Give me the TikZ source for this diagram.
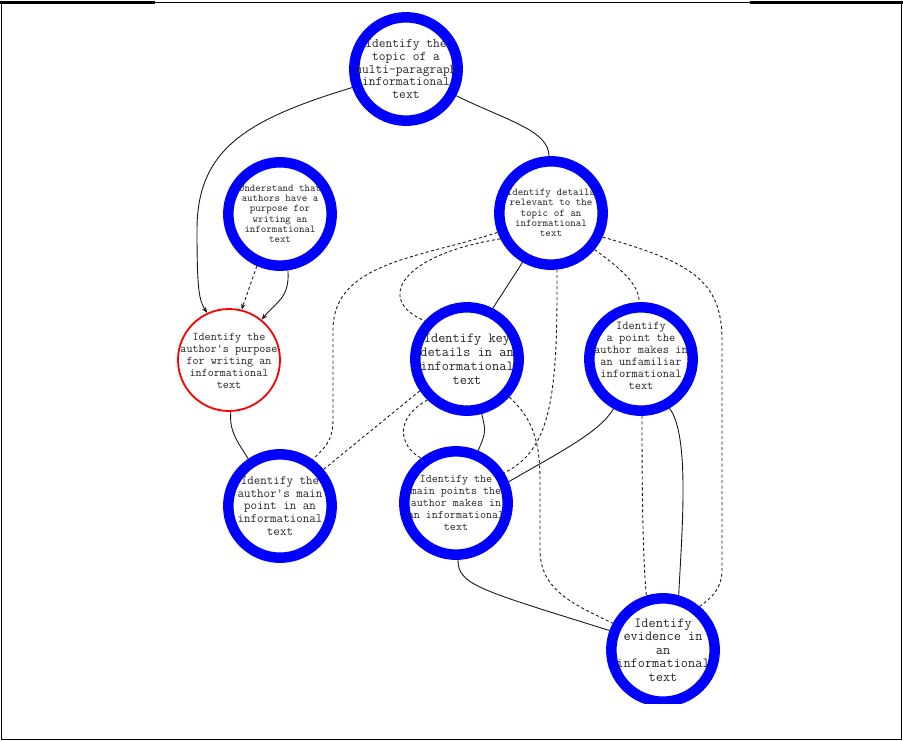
\documentclass[tikz,border=0pt]{standalone}
\usetikzlibrary{arrows.meta}
\tikzset{
 ring/.style={circle, draw=blue, line width=10.5pt, minimum size=103.4pt, inner sep=0pt, fill=white},
 redring/.style={circle, draw=red, line width=1.8pt, minimum size=102pt, inner sep=0pt, fill=white},
 lbl/.style={align=center, inner sep=0pt, text=black!85},
 edge/.style={draw=black!90, line width=0.9pt},
 dedge/.style={edge, dash pattern=on 3pt off 2.5pt},
 arr/.style={-{Stealth[length=6pt,width=4.5pt]}},
}
\newcommand{\fsz}[2]{\ttfamily\fontsize{\fpeval{#1*1.143}}{#2}\selectfont}
\begin{document}
\begin{tikzpicture}[x=1pt,y=-1pt]
\useasboundingbox (0,0) rectangle (903,741);
% frame
\draw[line width=1.5pt] (1.5,3) -- (1.5,739.5) -- (901.5,739.5) -- (901.5,3);
\draw[line width=1pt] (150,3) -- (755,3);
\draw[line width=3pt] (0,3) -- (155,3);
\draw[line width=3pt] (750,3) -- (903,3);
\begin{scope}
\clip (3,5) rectangle (900,703);
% nodes
\node[ring] (topic) at (406,69) {};
\node[lbl, font=\fsz{11.5}{12.7}] (topic-t) at (topic) {Identify the\\topic of a\\multi-paragraph\\informational\\text};
\node[ring] (understand) at (280,214) {};
\node[lbl, font=\fsz{9.1}{10.3}] (understand-t) at (understand) {Understand that\\authors have a\\purpose for\\writing an\\informational\\text};
\node[ring] (details) at (551,213) {};
\node[lbl, font=\fsz{9.2}{10.3}] (details-t) at (details) {Identify details\\relevant to the\\topic of an\\informational\\text};
\node[redring] (purpose) at (229,360) {};
\node[lbl, font=\fsz{10.3}{11.8}] (purpose-t) at ([yshift=-1pt]purpose.center) {Identify the\\author's purpose\\for writing an\\informational\\text};
\node[ring] (key) at (467,359) {};
\node[lbl, font=\fsz{12.2}{14}] (key-t) at (key) {Identify key\\details in an\\informational\\text};
\node[ring] (point) at (641,359) {};
\node[lbl, font=\fsz{10.6}{12}] (point-t) at ([yshift=3pt]point.center) {Identify\\a point the\\author makes in\\an unfamiliar\\informational\\text};
\node[ring] (main) at (280,506) {};
\node[lbl, font=\fsz{11.1}{12.7}] (main-t) at (main) {Identify the\\author's main\\point in an\\informational\\text};
\node[ring] (mainpts) at (456,503) {};
\node[lbl, font=\fsz{10.2}{12}] (mainpts-t) at (mainpts) {Identify the\\main points the\\author makes in\\an informational\\text};
\node[ring] (evidence) at (663,650) {};
\node[lbl, font=\fsz{12.2}{13.5}] (evidence-t) at (evidence) {Identify\\evidence in\\an\\informational\\text};
% edges
\draw[edge,arr] (topic.199) .. controls (245,120) and (197,150) .. (197,230) .. controls (197,290) and (199,300) .. (purpose.115);
\draw[dedge,arr] (understand.246) -- (purpose.76);
\draw[edge,arr] (understand.278) .. controls (290,298) and (276,302) .. (purpose.51);
\draw[edge] (topic.332) .. controls (505,120) and (549,130) .. (details.92);
\draw[edge] (details.240) -- (key.63);
\draw[dedge] (details.200) .. controls (420,258) and (333,262) .. (333,330) -- (333,420) .. controls (333,440) and (325,448) .. (main.55);
\draw[dedge] (details.207) .. controls (400,255) and (375,300) .. (key.138);
\draw[dedge] (details.276) .. controls (558,400) and (550,450) .. (mainpts.32);
\draw[dedge] (details.320) .. controls (620,268) and (640,285) .. (point.92);
\draw[dedge] (details.335) .. controls (690,262) and (722,280) .. (722,340) -- (722,570) .. controls (722,588) and (712,598) .. (evidence.50);
\draw[edge] (purpose.272) .. controls (229,432) and (238,442) .. (main.124);
\draw[dedge] (key.214) -- (main.40);
\draw[edge] (key.285) .. controls (486,432) .. (mainpts.67);
\draw[dedge] (key.226) .. controls (395,418) and (398,445) .. (mainpts.128);
\draw[dedge] (key.318) .. controls (532,418) and (540,440) .. (540,480) -- (540,550) .. controls (540,592) and (578,606) .. (evidence.152);
\draw[edge] (mainpts.272) .. controls (458,585) and (480,590) .. (evidence.160);
\draw[edge] (point.241) .. controls (600,432) and (560,452) .. (mainpts.22);
\draw[dedge] (point.271) .. controls (642,500) and (643,560) .. (evidence.107);
\draw[edge] (point.300) .. controls (690,435) and (682,530) .. (evidence.74);
\end{scope}
\end{tikzpicture}
\end{document}
